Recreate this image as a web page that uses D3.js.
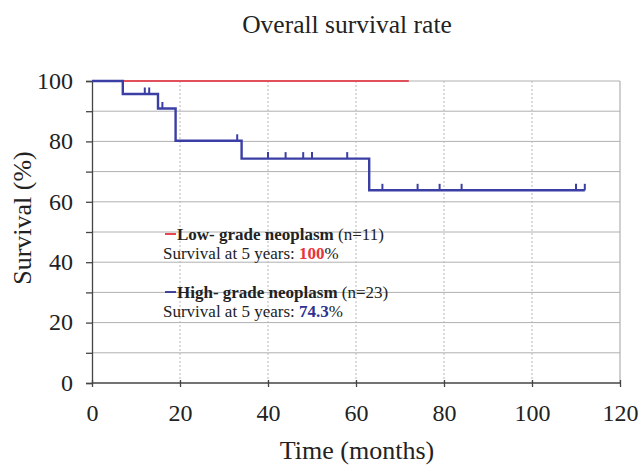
<!DOCTYPE html>
<html><head><meta charset="utf-8">
<script src="https://cdn.jsdelivr.net/npm/d3@7"></script>
<style>body{margin:0;background:#fff}svg{display:block;font-family:"Liberation Serif","Times New Roman",serif}</style>
</head><body><svg id="c" width="643" height="467"></svg>
<script>
const title = "Overall survival rate";
const xTicks = [0,20,40,60,80,100,120];
const yTicks = [0,20,40,60,80,100];
const yMinorTicks = [0,10,20,30,40,50,60,70,80,90,100];
const lowTimes = [0, 72];
const lowSurv = [100, 100];
const highEventTimes = [7, 15, 19, 34, 63];
const highSurvAfter = [95.7, 90.9, 80.2, 74.3, 63.8];
const highEnd = 112;
const highCensorTimes = [12, 13, 16, 33, 40, 44, 48, 50, 58, 66, 74, 79, 84, 110, 112];
const legendItems = [
  {name:"Low- grade neoplasm", n:"(n=11)", surv:"100", color:"#e8323c"},
  {name:"High- grade neoplasm", n:"(n=23)", surv:"74.3", color:"#2e3192"}
];

const svg = d3.select("#c");
const x = d3.scaleLinear().domain([0,120]).range([92,620]);
const y = d3.scaleLinear().domain([0,100]).range([383,81]);

// horizontal grid
svg.append("g").selectAll("line").data(yMinorTicks.filter(d=>d>0)).join("line")
  .attr("x1",x(0)).attr("x2",x(120)).attr("y1",d=>y(d)).attr("y2",d=>y(d))
  .attr("stroke","#b0b0b0").attr("stroke-width",1);
// vertical grid dotted
svg.append("g").selectAll("line").data(xTicks.filter(d=>d>0&&d<120)).join("line")
  .attr("x1",d=>x(d)).attr("x2",d=>x(d)).attr("y1",y(0)).attr("y2",y(100))
  .attr("stroke","#b8b8b8").attr("stroke-width",1).attr("stroke-dasharray","2,2");
// right border
svg.append("line").attr("x1",x(120)).attr("x2",x(120)).attr("y1",y(0)).attr("y2",y(100))
  .attr("stroke","#b0b0b0").attr("stroke-width",1.2);

// axes
const yAxis = d3.axisLeft(y).tickValues(yMinorTicks).tickSize(6).tickFormat(d=> yTicks.includes(d)? d : "");
const gy = svg.append("g").attr("transform",`translate(${x(0)},0)`).call(yAxis);
gy.select(".domain").attr("stroke","#444").attr("stroke-width",1.3);
gy.selectAll(".tick line").attr("stroke","#444").attr("stroke-width",1.3);
gy.selectAll(".tick text").attr("font-size",24).attr("fill","#222").attr("x",-19).attr("dy","0.3em")
  .attr("font-family","Liberation Serif");

const xAxis = d3.axisBottom(x).tickValues(xTicks).tickSize(4).tickFormat(d=>d);
const gx = svg.append("g").attr("transform",`translate(0,${y(0)})`).call(xAxis);
gx.select(".domain").attr("stroke","#444").attr("stroke-width",1.3).attr("d",`M${x(0)},0H${x(120)}`);
gx.selectAll(".tick line").attr("stroke","#444").attr("stroke-width",1.3).attr("y1",-3);
gx.selectAll(".tick text").attr("font-size",24).attr("fill","#222").attr("y",38).attr("dy",0)
  .attr("font-family","Liberation Serif");

// title & labels
svg.append("text").attr("x",347).attr("y",33).attr("text-anchor","middle")
  .attr("font-size",25.5).attr("fill","#222").text(title);
svg.append("text").attr("x",357).attr("y",459).attr("text-anchor","middle")
  .attr("font-size",26).attr("fill","#222").text("Time (months)");
svg.append("text").attr("transform","translate(31,218) rotate(-90)").attr("text-anchor","middle")
  .attr("font-size",26).attr("fill","#222").text("Survival (%)");

// low grade line
const lowPts = lowTimes.map((t,i)=>[t,lowSurv[i]]);
svg.append("path").attr("d", d3.line().x(d=>x(d[0])).y(d=>y(d[1]))(lowPts))
  .attr("fill","none").attr("stroke","#e0505a").attr("stroke-width",2);

// high grade step line
const highPts = [[0,100]];
highEventTimes.forEach((t,i)=>highPts.push([t,highSurvAfter[i]]));
highPts.push([highEnd, highSurvAfter[highSurvAfter.length-1]]);
svg.append("path").attr("d", d3.line().curve(d3.curveStepAfter).x(d=>x(d[0])).y(d=>y(d[1]))(highPts))
  .attr("fill","none").attr("stroke","#3b3fa5").attr("stroke-width",2.4);

function survAt(t){
  let s=100;
  highEventTimes.forEach((e,i)=>{ if(t>=e) s=highSurvAfter[i]; });
  return s;
}
svg.append("g").selectAll("line").data(highCensorTimes).join("line")
  .attr("x1",d=>x(d)).attr("x2",d=>x(d)).attr("y1",d=>y(survAt(d))).attr("y2",d=>y(survAt(d))-6.5)
  .attr("stroke","#3b3fa5").attr("stroke-width",2);

// legend
const lg = svg.append("g");
const legendY = [240, 298];
legendItems.forEach((it,i)=>{
  const y0 = legendY[i];
  lg.append("line").attr("x1",165).attr("x2",176).attr("y1",y0-6).attr("y2",y0-6)
    .attr("stroke",it.color).attr("stroke-width",1.8);
  const t = lg.append("text").attr("x",177).attr("y",y0).attr("font-size",17).attr("fill","#222");
  t.append("tspan").attr("font-weight","bold").text(it.name);
  t.append("tspan").text(" "+it.n);
  const s = lg.append("text").attr("x",163).attr("y",y0+19).attr("font-size",17).attr("fill","#222");
  s.append("tspan").text("Survival at 5 years: ");
  s.append("tspan").attr("font-weight","bold").attr("fill",it.color).text(it.surv);
  s.append("tspan").text("%");
});
</script></body></html>
